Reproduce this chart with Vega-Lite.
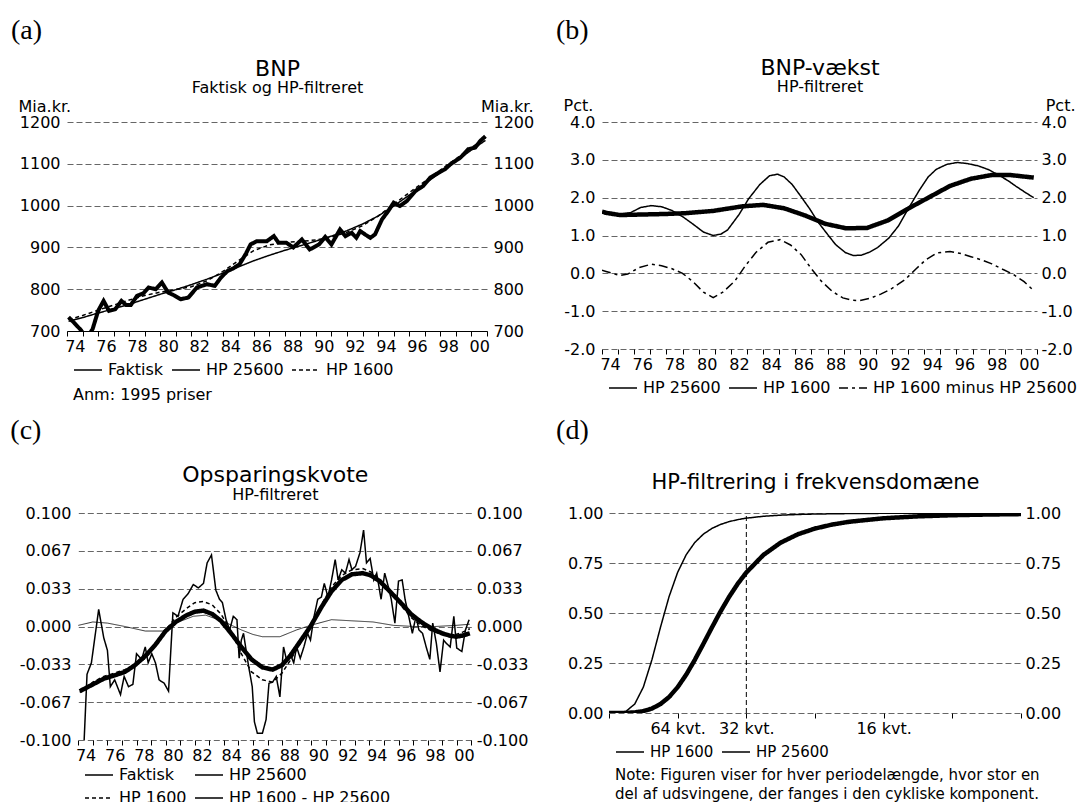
{
  "$schema": "https://vega.github.io/schema/vega-lite/v6.json",
  "padding": {"left": 10, "top": 16, "right": 1, "bottom": 2},
  "background": "white",
  "columns": 2,
  "align": {"row": "each", "column": "none"},
  "spacing": {"row": 7, "column": 22},
  "resolve": {"scale": {"strokeDash": "independent"}, "legend": {"strokeDash": "independent"}},
  "config": {
    "font": "DejaVu Sans",
    "view": {"stroke": null},
    "axis": {"labelFont": "DejaVu Sans", "labelFontSize": 16, "labelColor": "black", "titleFont": "DejaVu Sans", "titleFontSize": 16, "titleFontWeight": "normal", "titleColor": "black", "tickColor": "black", "domainColor": "black", "gridColor": "#666666", "gridDash": [6, 3], "gridWidth": 1, "titleLimit": 1000},
    "title": {"font": "Liberation Serif", "fontSize": 28, "fontWeight": "normal", "color": "black", "anchor": "start", "frame": "bounds"},
    "legend": {"orient": "bottom", "direction": "horizontal", "symbolType": "stroke", "symbolSize": 784, "labelFont": "DejaVu Sans", "labelFontSize": 16, "labelColor": "black", "titleFont": "DejaVu Sans", "titleFontSize": 16, "titleFontWeight": "normal", "titleColor": "black", "labelOffset": 5, "columnPadding": 5, "rowPadding": 2, "offset": -5, "padding": 6, "titleOrient": "bottom", "titleAnchor": "start", "titlePadding": 9, "titleLimit": 1000, "labelLimit": 500}
  },
  "datasets": {
    "a": [
      {"t": 1974.1, "s": "Faktisk", "v": 733}, {"t": 1974.5, "s": "Faktisk", "v": 718}, {"t": 1974.9, "s": "Faktisk", "v": 702}, {"t": 1975.15, "s": "Faktisk", "v": 688}, {"t": 1975.4, "s": "Faktisk", "v": 690}, {"t": 1975.65, "s": "Faktisk", "v": 705}, {"t": 1976.0, "s": "Faktisk", "v": 748}, {"t": 1976.35, "s": "Faktisk", "v": 772}, {"t": 1976.7, "s": "Faktisk", "v": 748}, {"t": 1977.1, "s": "Faktisk", "v": 752}, {"t": 1977.5, "s": "Faktisk", "v": 772}, {"t": 1977.8, "s": "Faktisk", "v": 762}, {"t": 1978.1, "s": "Faktisk", "v": 762}, {"t": 1978.5, "s": "Faktisk", "v": 784}, {"t": 1978.9, "s": "Faktisk", "v": 790}, {"t": 1979.25, "s": "Faktisk", "v": 804}, {"t": 1979.7, "s": "Faktisk", "v": 800}, {"t": 1980.1, "s": "Faktisk", "v": 816}, {"t": 1980.5, "s": "Faktisk", "v": 792}, {"t": 1980.9, "s": "Faktisk", "v": 785}, {"t": 1981.3, "s": "Faktisk", "v": 776}, {"t": 1981.8, "s": "Faktisk", "v": 780}, {"t": 1982.35, "s": "Faktisk", "v": 804}, {"t": 1983.0, "s": "Faktisk", "v": 812}, {"t": 1983.5, "s": "Faktisk", "v": 808}, {"t": 1983.9, "s": "Faktisk", "v": 828}, {"t": 1984.3, "s": "Faktisk", "v": 843}, {"t": 1984.7, "s": "Faktisk", "v": 850}, {"t": 1985.1, "s": "Faktisk", "v": 860}, {"t": 1985.5, "s": "Faktisk", "v": 885}, {"t": 1985.8, "s": "Faktisk", "v": 907}, {"t": 1986.2, "s": "Faktisk", "v": 915}, {"t": 1986.5, "s": "Faktisk", "v": 915}, {"t": 1986.85, "s": "Faktisk", "v": 915}, {"t": 1987.3, "s": "Faktisk", "v": 927}, {"t": 1987.6, "s": "Faktisk", "v": 911}, {"t": 1988.1, "s": "Faktisk", "v": 911}, {"t": 1988.55, "s": "Faktisk", "v": 900}, {"t": 1989.1, "s": "Faktisk", "v": 919}, {"t": 1989.6, "s": "Faktisk", "v": 895}, {"t": 1990.2, "s": "Faktisk", "v": 907}, {"t": 1990.6, "s": "Faktisk", "v": 925}, {"t": 1991.0, "s": "Faktisk", "v": 907}, {"t": 1991.55, "s": "Faktisk", "v": 943}, {"t": 1991.9, "s": "Faktisk", "v": 927}, {"t": 1992.3, "s": "Faktisk", "v": 935}, {"t": 1992.6, "s": "Faktisk", "v": 923}, {"t": 1992.85, "s": "Faktisk", "v": 939}, {"t": 1993.2, "s": "Faktisk", "v": 930}, {"t": 1993.5, "s": "Faktisk", "v": 923}, {"t": 1993.8, "s": "Faktisk", "v": 931}, {"t": 1994.25, "s": "Faktisk", "v": 967}, {"t": 1994.65, "s": "Faktisk", "v": 987}, {"t": 1995.0, "s": "Faktisk", "v": 1007}, {"t": 1995.4, "s": "Faktisk", "v": 999}, {"t": 1995.85, "s": "Faktisk", "v": 1011}, {"t": 1996.4, "s": "Faktisk", "v": 1035}, {"t": 1996.9, "s": "Faktisk", "v": 1047}, {"t": 1997.35, "s": "Faktisk", "v": 1067}, {"t": 1997.9, "s": "Faktisk", "v": 1079}, {"t": 1998.3, "s": "Faktisk", "v": 1087}, {"t": 1998.65, "s": "Faktisk", "v": 1099}, {"t": 1999.3, "s": "Faktisk", "v": 1115}, {"t": 1999.8, "s": "Faktisk", "v": 1135}, {"t": 2000.25, "s": "Faktisk", "v": 1139}, {"t": 2000.55, "s": "Faktisk", "v": 1154}, {"t": 2000.9, "s": "Faktisk", "v": 1166},
      {"t": 1974.1, "s": "HP 25600", "v": 723}, {"t": 1975, "s": "HP 25600", "v": 732}, {"t": 1976, "s": "HP 25600", "v": 743}, {"t": 1977, "s": "HP 25600", "v": 753}, {"t": 1978, "s": "HP 25600", "v": 764}, {"t": 1979, "s": "HP 25600", "v": 776}, {"t": 1980, "s": "HP 25600", "v": 788}, {"t": 1981, "s": "HP 25600", "v": 799}, {"t": 1982, "s": "HP 25600", "v": 811}, {"t": 1983, "s": "HP 25600", "v": 824}, {"t": 1984, "s": "HP 25600", "v": 838}, {"t": 1985, "s": "HP 25600", "v": 853}, {"t": 1986, "s": "HP 25600", "v": 868}, {"t": 1987, "s": "HP 25600", "v": 881}, {"t": 1988, "s": "HP 25600", "v": 893}, {"t": 1989, "s": "HP 25600", "v": 904}, {"t": 1990, "s": "HP 25600", "v": 915}, {"t": 1991, "s": "HP 25600", "v": 927}, {"t": 1992, "s": "HP 25600", "v": 940}, {"t": 1993, "s": "HP 25600", "v": 956}, {"t": 1994, "s": "HP 25600", "v": 975}, {"t": 1995, "s": "HP 25600", "v": 999}, {"t": 1996, "s": "HP 25600", "v": 1025}, {"t": 1997, "s": "HP 25600", "v": 1052}, {"t": 1998, "s": "HP 25600", "v": 1079}, {"t": 1999, "s": "HP 25600", "v": 1106}, {"t": 2000, "s": "HP 25600", "v": 1133}, {"t": 2000.9, "s": "HP 25600", "v": 1156},
      {"t": 1974.1, "s": "HP 1600", "v": 727}, {"t": 1975, "s": "HP 1600", "v": 737}, {"t": 1976, "s": "HP 1600", "v": 750}, {"t": 1977, "s": "HP 1600", "v": 762}, {"t": 1978, "s": "HP 1600", "v": 774}, {"t": 1979, "s": "HP 1600", "v": 785}, {"t": 1980, "s": "HP 1600", "v": 793}, {"t": 1981, "s": "HP 1600", "v": 799}, {"t": 1982, "s": "HP 1600", "v": 806}, {"t": 1983, "s": "HP 1600", "v": 820}, {"t": 1984, "s": "HP 1600", "v": 842}, {"t": 1985, "s": "HP 1600", "v": 868}, {"t": 1986, "s": "HP 1600", "v": 892}, {"t": 1987, "s": "HP 1600", "v": 906}, {"t": 1988, "s": "HP 1600", "v": 912}, {"t": 1989, "s": "HP 1600", "v": 914}, {"t": 1990, "s": "HP 1600", "v": 918}, {"t": 1991, "s": "HP 1600", "v": 925}, {"t": 1992, "s": "HP 1600", "v": 936}, {"t": 1993, "s": "HP 1600", "v": 952}, {"t": 1994, "s": "HP 1600", "v": 975}, {"t": 1995, "s": "HP 1600", "v": 1003}, {"t": 1996, "s": "HP 1600", "v": 1031}, {"t": 1997, "s": "HP 1600", "v": 1058}, {"t": 1998, "s": "HP 1600", "v": 1085}, {"t": 1999, "s": "HP 1600", "v": 1112}, {"t": 2000, "s": "HP 1600", "v": 1139}, {"t": 2000.9, "s": "HP 1600", "v": 1162}
    ],
    "b": [
      {"t": 1974.0, "s": "HP 25600", "v": 1.63}, {"t": 1974.25, "s": "HP 25600", "v": 1.6}, {"t": 1975.1, "s": "HP 25600", "v": 1.54}, {"t": 1976.0, "s": "HP 25600", "v": 1.55}, {"t": 1977.05, "s": "HP 25600", "v": 1.56}, {"t": 1978.0, "s": "HP 25600", "v": 1.57}, {"t": 1979.2, "s": "HP 25600", "v": 1.59}, {"t": 1980.9, "s": "HP 25600", "v": 1.65}, {"t": 1982.7, "s": "HP 25600", "v": 1.77}, {"t": 1984.0, "s": "HP 25600", "v": 1.81}, {"t": 1985.3, "s": "HP 25600", "v": 1.72}, {"t": 1986.6, "s": "HP 25600", "v": 1.53}, {"t": 1987.85, "s": "HP 25600", "v": 1.31}, {"t": 1989.15, "s": "HP 25600", "v": 1.19}, {"t": 1990.45, "s": "HP 25600", "v": 1.2}, {"t": 1991.75, "s": "HP 25600", "v": 1.4}, {"t": 1993.0, "s": "HP 25600", "v": 1.71}, {"t": 1994.3, "s": "HP 25600", "v": 2.01}, {"t": 1995.6, "s": "HP 25600", "v": 2.31}, {"t": 1996.9, "s": "HP 25600", "v": 2.5}, {"t": 1998.2, "s": "HP 25600", "v": 2.6}, {"t": 1999.3, "s": "HP 25600", "v": 2.6}, {"t": 2000.8, "s": "HP 25600", "v": 2.53},
      {"t": 1974.0, "s": "HP 1600", "v": 1.6}, {"t": 1974.25, "s": "HP 1600", "v": 1.57}, {"t": 1975.0, "s": "HP 1600", "v": 1.56}, {"t": 1975.75, "s": "HP 1600", "v": 1.6}, {"t": 1976.4, "s": "HP 1600", "v": 1.74}, {"t": 1977.05, "s": "HP 1600", "v": 1.79}, {"t": 1977.7, "s": "HP 1600", "v": 1.76}, {"t": 1978.35, "s": "HP 1600", "v": 1.66}, {"t": 1979.0, "s": "HP 1600", "v": 1.5}, {"t": 1979.65, "s": "HP 1600", "v": 1.3}, {"t": 1980.3, "s": "HP 1600", "v": 1.09}, {"t": 1980.9, "s": "HP 1600", "v": 1.0}, {"t": 1981.4, "s": "HP 1600", "v": 1.04}, {"t": 1981.8, "s": "HP 1600", "v": 1.15}, {"t": 1982.5, "s": "HP 1600", "v": 1.55}, {"t": 1983.1, "s": "HP 1600", "v": 1.97}, {"t": 1983.8, "s": "HP 1600", "v": 2.35}, {"t": 1984.4, "s": "HP 1600", "v": 2.58}, {"t": 1984.9, "s": "HP 1600", "v": 2.62}, {"t": 1985.3, "s": "HP 1600", "v": 2.55}, {"t": 1985.8, "s": "HP 1600", "v": 2.35}, {"t": 1986.35, "s": "HP 1600", "v": 2.03}, {"t": 1986.9, "s": "HP 1600", "v": 1.7}, {"t": 1987.4, "s": "HP 1600", "v": 1.36}, {"t": 1988.0, "s": "HP 1600", "v": 1.03}, {"t": 1988.5, "s": "HP 1600", "v": 0.76}, {"t": 1989.1, "s": "HP 1600", "v": 0.55}, {"t": 1989.6, "s": "HP 1600", "v": 0.47}, {"t": 1990.1, "s": "HP 1600", "v": 0.48}, {"t": 1990.6, "s": "HP 1600", "v": 0.56}, {"t": 1991.1, "s": "HP 1600", "v": 0.68}, {"t": 1991.8, "s": "HP 1600", "v": 0.93}, {"t": 1992.4, "s": "HP 1600", "v": 1.25}, {"t": 1993.0, "s": "HP 1600", "v": 1.7}, {"t": 1993.7, "s": "HP 1600", "v": 2.2}, {"t": 1994.25, "s": "HP 1600", "v": 2.55}, {"t": 1994.75, "s": "HP 1600", "v": 2.75}, {"t": 1995.4, "s": "HP 1600", "v": 2.88}, {"t": 1996.05, "s": "HP 1600", "v": 2.93}, {"t": 1996.7, "s": "HP 1600", "v": 2.9}, {"t": 1997.35, "s": "HP 1600", "v": 2.84}, {"t": 1998.0, "s": "HP 1600", "v": 2.74}, {"t": 1998.65, "s": "HP 1600", "v": 2.59}, {"t": 1999.2, "s": "HP 1600", "v": 2.45}, {"t": 1999.7, "s": "HP 1600", "v": 2.3}, {"t": 2000.3, "s": "HP 1600", "v": 2.13}, {"t": 2000.8, "s": "HP 1600", "v": 2.0},
      {"t": 1974.0, "s": "HP 1600 minus HP 25600", "v": 0.08}, {"t": 1974.25, "s": "HP 1600 minus HP 25600", "v": 0.05}, {"t": 1975.1, "s": "HP 1600 minus HP 25600", "v": -0.06}, {"t": 1975.6, "s": "HP 1600 minus HP 25600", "v": -0.02}, {"t": 1976.3, "s": "HP 1600 minus HP 25600", "v": 0.15}, {"t": 1977.05, "s": "HP 1600 minus HP 25600", "v": 0.24}, {"t": 1977.7, "s": "HP 1600 minus HP 25600", "v": 0.2}, {"t": 1978.35, "s": "HP 1600 minus HP 25600", "v": 0.12}, {"t": 1979.0, "s": "HP 1600 minus HP 25600", "v": 0.0}, {"t": 1979.65, "s": "HP 1600 minus HP 25600", "v": -0.22}, {"t": 1980.3, "s": "HP 1600 minus HP 25600", "v": -0.5}, {"t": 1980.9, "s": "HP 1600 minus HP 25600", "v": -0.64}, {"t": 1981.5, "s": "HP 1600 minus HP 25600", "v": -0.5}, {"t": 1982.25, "s": "HP 1600 minus HP 25600", "v": -0.2}, {"t": 1982.9, "s": "HP 1600 minus HP 25600", "v": 0.2}, {"t": 1983.55, "s": "HP 1600 minus HP 25600", "v": 0.55}, {"t": 1984.3, "s": "HP 1600 minus HP 25600", "v": 0.82}, {"t": 1985.05, "s": "HP 1600 minus HP 25600", "v": 0.89}, {"t": 1985.7, "s": "HP 1600 minus HP 25600", "v": 0.75}, {"t": 1986.35, "s": "HP 1600 minus HP 25600", "v": 0.5}, {"t": 1987.0, "s": "HP 1600 minus HP 25600", "v": 0.12}, {"t": 1987.6, "s": "HP 1600 minus HP 25600", "v": -0.2}, {"t": 1988.3, "s": "HP 1600 minus HP 25600", "v": -0.48}, {"t": 1988.95, "s": "HP 1600 minus HP 25600", "v": -0.65}, {"t": 1989.5, "s": "HP 1600 minus HP 25600", "v": -0.71}, {"t": 1990.0, "s": "HP 1600 minus HP 25600", "v": -0.72}, {"t": 1990.7, "s": "HP 1600 minus HP 25600", "v": -0.65}, {"t": 1991.3, "s": "HP 1600 minus HP 25600", "v": -0.55}, {"t": 1992.0, "s": "HP 1600 minus HP 25600", "v": -0.4}, {"t": 1992.8, "s": "HP 1600 minus HP 25600", "v": -0.17}, {"t": 1993.5, "s": "HP 1600 minus HP 25600", "v": 0.12}, {"t": 1994.1, "s": "HP 1600 minus HP 25600", "v": 0.36}, {"t": 1994.8, "s": "HP 1600 minus HP 25600", "v": 0.54}, {"t": 1995.6, "s": "HP 1600 minus HP 25600", "v": 0.58}, {"t": 1996.3, "s": "HP 1600 minus HP 25600", "v": 0.52}, {"t": 1996.9, "s": "HP 1600 minus HP 25600", "v": 0.44}, {"t": 1997.6, "s": "HP 1600 minus HP 25600", "v": 0.35}, {"t": 1998.2, "s": "HP 1600 minus HP 25600", "v": 0.25}, {"t": 1998.9, "s": "HP 1600 minus HP 25600", "v": 0.1}, {"t": 1999.5, "s": "HP 1600 minus HP 25600", "v": -0.02}, {"t": 2000.2, "s": "HP 1600 minus HP 25600", "v": -0.22}, {"t": 2000.8, "s": "HP 1600 minus HP 25600", "v": -0.46}
    ],
    "c": [
      {"t": 1974.3, "s": "Faktisk", "v": -0.13}, {"t": 1974.6, "s": "Faktisk", "v": -0.042}, {"t": 1974.9, "s": "Faktisk", "v": -0.032}, {"t": 1975.4, "s": "Faktisk", "v": 0.015}, {"t": 1975.75, "s": "Faktisk", "v": -0.01}, {"t": 1976.0, "s": "Faktisk", "v": -0.021}, {"t": 1976.2, "s": "Faktisk", "v": -0.053}, {"t": 1976.5, "s": "Faktisk", "v": -0.047}, {"t": 1976.9, "s": "Faktisk", "v": -0.06}, {"t": 1977.15, "s": "Faktisk", "v": -0.044}, {"t": 1977.45, "s": "Faktisk", "v": -0.053}, {"t": 1977.75, "s": "Faktisk", "v": -0.051}, {"t": 1978.0, "s": "Faktisk", "v": -0.024}, {"t": 1978.35, "s": "Faktisk", "v": -0.029}, {"t": 1978.6, "s": "Faktisk", "v": -0.018}, {"t": 1978.8, "s": "Faktisk", "v": -0.032}, {"t": 1979.05, "s": "Faktisk", "v": -0.024}, {"t": 1979.3, "s": "Faktisk", "v": -0.032}, {"t": 1979.55, "s": "Faktisk", "v": -0.047}, {"t": 1979.9, "s": "Faktisk", "v": -0.05}, {"t": 1980.2, "s": "Faktisk", "v": -0.057}, {"t": 1980.5, "s": "Faktisk", "v": 0.012}, {"t": 1980.85, "s": "Faktisk", "v": 0.009}, {"t": 1981.2, "s": "Faktisk", "v": 0.024}, {"t": 1981.55, "s": "Faktisk", "v": 0.029}, {"t": 1981.9, "s": "Faktisk", "v": 0.037}, {"t": 1982.25, "s": "Faktisk", "v": 0.034}, {"t": 1982.6, "s": "Faktisk", "v": 0.038}, {"t": 1982.85, "s": "Faktisk", "v": 0.056}, {"t": 1983.15, "s": "Faktisk", "v": 0.063}, {"t": 1983.45, "s": "Faktisk", "v": 0.032}, {"t": 1983.7, "s": "Faktisk", "v": 0.024}, {"t": 1983.9, "s": "Faktisk", "v": 0.021}, {"t": 1984.15, "s": "Faktisk", "v": 0.006}, {"t": 1984.4, "s": "Faktisk", "v": -0.003}, {"t": 1984.65, "s": "Faktisk", "v": 0.009}, {"t": 1984.9, "s": "Faktisk", "v": 0.006}, {"t": 1985.05, "s": "Faktisk", "v": -0.028}, {"t": 1985.2, "s": "Faktisk", "v": -0.012}, {"t": 1985.35, "s": "Faktisk", "v": -0.006}, {"t": 1985.7, "s": "Faktisk", "v": -0.035}, {"t": 1985.95, "s": "Faktisk", "v": -0.053}, {"t": 1986.1, "s": "Faktisk", "v": -0.084}, {"t": 1986.3, "s": "Faktisk", "v": -0.094}, {"t": 1986.65, "s": "Faktisk", "v": -0.094}, {"t": 1986.9, "s": "Faktisk", "v": -0.082}, {"t": 1987.1, "s": "Faktisk", "v": -0.05}, {"t": 1987.35, "s": "Faktisk", "v": -0.049}, {"t": 1987.6, "s": "Faktisk", "v": -0.044}, {"t": 1987.85, "s": "Faktisk", "v": -0.062}, {"t": 1988.1, "s": "Faktisk", "v": -0.018}, {"t": 1988.3, "s": "Faktisk", "v": -0.029}, {"t": 1988.55, "s": "Faktisk", "v": -0.024}, {"t": 1988.8, "s": "Faktisk", "v": -0.032}, {"t": 1989.0, "s": "Faktisk", "v": -0.018}, {"t": 1989.25, "s": "Faktisk", "v": -0.028}, {"t": 1989.5, "s": "Faktisk", "v": -0.018}, {"t": 1989.75, "s": "Faktisk", "v": -0.006}, {"t": 1989.95, "s": "Faktisk", "v": -0.012}, {"t": 1990.2, "s": "Faktisk", "v": 0.009}, {"t": 1990.45, "s": "Faktisk", "v": 0.024}, {"t": 1990.7, "s": "Faktisk", "v": 0.026}, {"t": 1990.9, "s": "Faktisk", "v": 0.038}, {"t": 1991.15, "s": "Faktisk", "v": 0.026}, {"t": 1991.4, "s": "Faktisk", "v": 0.041}, {"t": 1991.65, "s": "Faktisk", "v": 0.059}, {"t": 1991.85, "s": "Faktisk", "v": 0.041}, {"t": 1992.1, "s": "Faktisk", "v": 0.05}, {"t": 1992.35, "s": "Faktisk", "v": 0.047}, {"t": 1992.6, "s": "Faktisk", "v": 0.059}, {"t": 1992.8, "s": "Faktisk", "v": 0.05}, {"t": 1993.05, "s": "Faktisk", "v": 0.053}, {"t": 1993.35, "s": "Faktisk", "v": 0.065}, {"t": 1993.6, "s": "Faktisk", "v": 0.085}, {"t": 1993.8, "s": "Faktisk", "v": 0.056}, {"t": 1994.05, "s": "Faktisk", "v": 0.06}, {"t": 1994.3, "s": "Faktisk", "v": 0.041}, {"t": 1994.5, "s": "Faktisk", "v": 0.047}, {"t": 1994.8, "s": "Faktisk", "v": 0.024}, {"t": 1995.05, "s": "Faktisk", "v": 0.047}, {"t": 1995.3, "s": "Faktisk", "v": 0.035}, {"t": 1995.5, "s": "Faktisk", "v": 0.024}, {"t": 1995.75, "s": "Faktisk", "v": 0.003}, {"t": 1996.0, "s": "Faktisk", "v": 0.04}, {"t": 1996.25, "s": "Faktisk", "v": 0.041}, {"t": 1996.45, "s": "Faktisk", "v": 0.024}, {"t": 1996.7, "s": "Faktisk", "v": 0.009}, {"t": 1996.95, "s": "Faktisk", "v": -0.006}, {"t": 1997.2, "s": "Faktisk", "v": 0.009}, {"t": 1997.4, "s": "Faktisk", "v": -0.003}, {"t": 1997.65, "s": "Faktisk", "v": -0.006}, {"t": 1997.9, "s": "Faktisk", "v": -0.018}, {"t": 1998.15, "s": "Faktisk", "v": -0.029}, {"t": 1998.35, "s": "Faktisk", "v": 0.003}, {"t": 1998.6, "s": "Faktisk", "v": -0.015}, {"t": 1998.85, "s": "Faktisk", "v": -0.04}, {"t": 1999.1, "s": "Faktisk", "v": -0.012}, {"t": 1999.3, "s": "Faktisk", "v": -0.015}, {"t": 1999.55, "s": "Faktisk", "v": -0.018}, {"t": 1999.8, "s": "Faktisk", "v": 0.009}, {"t": 2000.0, "s": "Faktisk", "v": -0.019}, {"t": 2000.35, "s": "Faktisk", "v": -0.022}, {"t": 2000.6, "s": "Faktisk", "v": -0.003}, {"t": 2000.85, "s": "Faktisk", "v": 0.006},
      {"t": 1974.1, "s": "HP 25600", "v": -0.057}, {"t": 1975.0, "s": "HP 25600", "v": -0.051}, {"t": 1975.75, "s": "HP 25600", "v": -0.046}, {"t": 1976.5, "s": "HP 25600", "v": -0.043}, {"t": 1977.2, "s": "HP 25600", "v": -0.04}, {"t": 1977.9, "s": "HP 25600", "v": -0.034}, {"t": 1978.6, "s": "HP 25600", "v": -0.026}, {"t": 1979.3, "s": "HP 25600", "v": -0.016}, {"t": 1980.0, "s": "HP 25600", "v": -0.004}, {"t": 1980.7, "s": "HP 25600", "v": 0.004}, {"t": 1981.45, "s": "HP 25600", "v": 0.01}, {"t": 1982.0, "s": "HP 25600", "v": 0.013}, {"t": 1982.6, "s": "HP 25600", "v": 0.014}, {"t": 1983.2, "s": "HP 25600", "v": 0.011}, {"t": 1983.8, "s": "HP 25600", "v": 0.005}, {"t": 1984.5, "s": "HP 25600", "v": -0.006}, {"t": 1985.2, "s": "HP 25600", "v": -0.018}, {"t": 1985.9, "s": "HP 25600", "v": -0.029}, {"t": 1986.65, "s": "HP 25600", "v": -0.036}, {"t": 1987.35, "s": "HP 25600", "v": -0.038}, {"t": 1988.0, "s": "HP 25600", "v": -0.034}, {"t": 1988.55, "s": "HP 25600", "v": -0.026}, {"t": 1989.25, "s": "HP 25600", "v": -0.013}, {"t": 1989.95, "s": "HP 25600", "v": 0.0}, {"t": 1990.7, "s": "HP 25600", "v": 0.017}, {"t": 1991.4, "s": "HP 25600", "v": 0.031}, {"t": 1992.1, "s": "HP 25600", "v": 0.041}, {"t": 1992.8, "s": "HP 25600", "v": 0.046}, {"t": 1993.55, "s": "HP 25600", "v": 0.047}, {"t": 1994.1, "s": "HP 25600", "v": 0.045}, {"t": 1994.7, "s": "HP 25600", "v": 0.04}, {"t": 1995.4, "s": "HP 25600", "v": 0.031}, {"t": 1996.15, "s": "HP 25600", "v": 0.021}, {"t": 1996.85, "s": "HP 25600", "v": 0.011}, {"t": 1997.55, "s": "HP 25600", "v": 0.004}, {"t": 1998.3, "s": "HP 25600", "v": -0.002}, {"t": 1999.0, "s": "HP 25600", "v": -0.006}, {"t": 1999.5, "s": "HP 25600", "v": -0.008}, {"t": 1999.95, "s": "HP 25600", "v": -0.009}, {"t": 2000.4, "s": "HP 25600", "v": -0.008}, {"t": 2000.9, "s": "HP 25600", "v": -0.006},
      {"t": 1974.1, "s": "HP 1600", "v": -0.058}, {"t": 1975.0, "s": "HP 1600", "v": -0.049}, {"t": 1975.75, "s": "HP 1600", "v": -0.044}, {"t": 1976.5, "s": "HP 1600", "v": -0.041}, {"t": 1977.2, "s": "HP 1600", "v": -0.038}, {"t": 1977.9, "s": "HP 1600", "v": -0.034}, {"t": 1978.6, "s": "HP 1600", "v": -0.028}, {"t": 1979.3, "s": "HP 1600", "v": -0.017}, {"t": 1980.0, "s": "HP 1600", "v": -0.003}, {"t": 1980.7, "s": "HP 1600", "v": 0.008}, {"t": 1981.45, "s": "HP 1600", "v": 0.016}, {"t": 1982.0, "s": "HP 1600", "v": 0.021}, {"t": 1982.6, "s": "HP 1600", "v": 0.022}, {"t": 1983.2, "s": "HP 1600", "v": 0.019}, {"t": 1983.8, "s": "HP 1600", "v": 0.011}, {"t": 1984.5, "s": "HP 1600", "v": -0.004}, {"t": 1985.2, "s": "HP 1600", "v": -0.024}, {"t": 1985.9, "s": "HP 1600", "v": -0.04}, {"t": 1986.65, "s": "HP 1600", "v": -0.047}, {"t": 1987.35, "s": "HP 1600", "v": -0.049}, {"t": 1988.0, "s": "HP 1600", "v": -0.041}, {"t": 1988.55, "s": "HP 1600", "v": -0.03}, {"t": 1989.25, "s": "HP 1600", "v": -0.015}, {"t": 1989.95, "s": "HP 1600", "v": 0.0}, {"t": 1990.7, "s": "HP 1600", "v": 0.019}, {"t": 1991.4, "s": "HP 1600", "v": 0.035}, {"t": 1992.1, "s": "HP 1600", "v": 0.045}, {"t": 1992.8, "s": "HP 1600", "v": 0.05}, {"t": 1993.55, "s": "HP 1600", "v": 0.051}, {"t": 1994.1, "s": "HP 1600", "v": 0.048}, {"t": 1994.7, "s": "HP 1600", "v": 0.042}, {"t": 1995.4, "s": "HP 1600", "v": 0.031}, {"t": 1996.15, "s": "HP 1600", "v": 0.019}, {"t": 1996.85, "s": "HP 1600", "v": 0.008}, {"t": 1997.55, "s": "HP 1600", "v": 0.001}, {"t": 1998.3, "s": "HP 1600", "v": -0.004}, {"t": 1999.0, "s": "HP 1600", "v": -0.007}, {"t": 1999.5, "s": "HP 1600", "v": -0.008}, {"t": 1999.95, "s": "HP 1600", "v": -0.007}, {"t": 2000.4, "s": "HP 1600", "v": -0.005}, {"t": 2000.9, "s": "HP 1600", "v": -0.002},
      {"t": 1974.0, "s": "HP 1600 - HP 25600", "v": 0.001}, {"t": 1975.0, "s": "HP 1600 - HP 25600", "v": 0.004}, {"t": 1976.0, "s": "HP 1600 - HP 25600", "v": 0.003}, {"t": 1977.2, "s": "HP 1600 - HP 25600", "v": 0.0}, {"t": 1978.6, "s": "HP 1600 - HP 25600", "v": -0.004}, {"t": 1979.8, "s": "HP 1600 - HP 25600", "v": -0.004}, {"t": 1980.7, "s": "HP 1600 - HP 25600", "v": 0.003}, {"t": 1981.9, "s": "HP 1600 - HP 25600", "v": 0.009}, {"t": 1982.75, "s": "HP 1600 - HP 25600", "v": 0.01}, {"t": 1984.05, "s": "HP 1600 - HP 25600", "v": 0.004}, {"t": 1985.2, "s": "HP 1600 - HP 25600", "v": -0.003}, {"t": 1986.0, "s": "HP 1600 - HP 25600", "v": -0.007}, {"t": 1986.65, "s": "HP 1600 - HP 25600", "v": -0.009}, {"t": 1987.85, "s": "HP 1600 - HP 25600", "v": -0.009}, {"t": 1989.0, "s": "HP 1600 - HP 25600", "v": -0.003}, {"t": 1989.95, "s": "HP 1600 - HP 25600", "v": 0.001}, {"t": 1991.4, "s": "HP 1600 - HP 25600", "v": 0.006}, {"t": 1992.8, "s": "HP 1600 - HP 25600", "v": 0.005}, {"t": 1994.25, "s": "HP 1600 - HP 25600", "v": 0.004}, {"t": 1995.65, "s": "HP 1600 - HP 25600", "v": 0.001}, {"t": 1997.1, "s": "HP 1600 - HP 25600", "v": 0.0}, {"t": 1998.5, "s": "HP 1600 - HP 25600", "v": 0.0}, {"t": 1999.95, "s": "HP 1600 - HP 25600", "v": 0.001}, {"t": 2000.9, "s": "HP 1600 - HP 25600", "v": 0.002}
    ],
    "d": [
      {"f": 0, "s": "HP 1600", "v": 0}, {"f": 0.001953, "s": "HP 1600", "v": 0.0}, {"f": 0.003906, "s": "HP 1600", "v": 0.0006}, {"f": 0.005859, "s": "HP 1600", "v": 0.0029}, {"f": 0.0078125, "s": "HP 1600", "v": 0.0092}, {"f": 0.009766, "s": "HP 1600", "v": 0.0222}, {"f": 0.011719, "s": "HP 1600", "v": 0.0449}, {"f": 0.013672, "s": "HP 1600", "v": 0.08}, {"f": 0.015625, "s": "HP 1600", "v": 0.1292}, {"f": 0.017578, "s": "HP 1600", "v": 0.192}, {"f": 0.019531, "s": "HP 1600", "v": 0.2658}, {"f": 0.021484, "s": "HP 1600", "v": 0.3463}, {"f": 0.023438, "s": "HP 1600", "v": 0.4285}, {"f": 0.025391, "s": "HP 1600", "v": 0.5079}, {"f": 0.027344, "s": "HP 1600", "v": 0.5811}, {"f": 0.029297, "s": "HP 1600", "v": 0.6462}, {"f": 0.03125, "s": "HP 1600", "v": 0.7026}, {"f": 0.035156, "s": "HP 1600", "v": 0.7907}, {"f": 0.039063, "s": "HP 1600", "v": 0.8518}, {"f": 0.042969, "s": "HP 1600", "v": 0.8936}, {"f": 0.046875, "s": "HP 1600", "v": 0.9223}, {"f": 0.050781, "s": "HP 1600", "v": 0.9422}, {"f": 0.054688, "s": "HP 1600", "v": 0.9563}, {"f": 0.0625, "s": "HP 1600", "v": 0.9737}, {"f": 0.070313, "s": "HP 1600", "v": 0.9833}, {"f": 0.078125, "s": "HP 1600", "v": 0.9889}, {"f": 0.085938, "s": "HP 1600", "v": 0.9923}, {"f": 0.09375, "s": "HP 1600", "v": 0.9945},
      {"f": 0, "s": "HP 25600", "v": 0}, {"f": 0.001953, "s": "HP 25600", "v": 0.0006}, {"f": 0.003906, "s": "HP 25600", "v": 0.0092}, {"f": 0.005859, "s": "HP 25600", "v": 0.0449}, {"f": 0.0078125, "s": "HP 25600", "v": 0.1293}, {"f": 0.009766, "s": "HP 25600", "v": 0.2661}, {"f": 0.011719, "s": "HP 25600", "v": 0.4291}, {"f": 0.013672, "s": "HP 25600", "v": 0.582}, {"f": 0.015625, "s": "HP 25600", "v": 0.7036}, {"f": 0.017578, "s": "HP 25600", "v": 0.7917}, {"f": 0.019531, "s": "HP 25600", "v": 0.8528}, {"f": 0.021484, "s": "HP 25600", "v": 0.8945}, {"f": 0.023438, "s": "HP 25600", "v": 0.9231}, {"f": 0.025391, "s": "HP 25600", "v": 0.9429}, {"f": 0.027344, "s": "HP 25600", "v": 0.9569}, {"f": 0.029297, "s": "HP 25600", "v": 0.9669}, {"f": 0.03125, "s": "HP 25600", "v": 0.9742}, {"f": 0.035156, "s": "HP 25600", "v": 0.9837}, {"f": 0.039063, "s": "HP 25600", "v": 0.9892}, {"f": 0.042969, "s": "HP 25600", "v": 0.9926}, {"f": 0.046875, "s": "HP 25600", "v": 0.9948}, {"f": 0.054688, "s": "HP 25600", "v": 0.9972}, {"f": 0.0625, "s": "HP 25600", "v": 0.9983}, {"f": 0.078125, "s": "HP 25600", "v": 0.9993}, {"f": 0.09375, "s": "HP 25600", "v": 0.9997}
    ]
  },
  "concat": [
    {
      "width": 420, "height": 209,
      "title": {"text": "(a)", "dx": -7, "offset": 12},
      "layer": [
        {
          "data": {"name": "a"},
          "mark": {"type": "line", "color": "black", "clip": true},
          "encoding": {
            "x": {"field": "t", "type": "quantitative", "scale": {"domain": [1974, 2001], "nice": false, "zero": false},
              "axis": {"orient": "bottom", "values": [1974,1975,1976,1977,1978,1979,1980,1981,1982,1983,1984,1985,1986,1987,1988,1989,1990,1991,1992,1993,1994,1995,1996,1997,1998,1999,2000,2001], "labelExpr": "datum.value % 2 == 0 && datum.value < 2001 ? substring(toString(datum.value), 2, 4) : ''", "labelOffset": 7.8, "grid": false, "domain": true, "tickSize": 5, "labelPadding": 2, "labelOverlap": false, "labelFlush": false, "labelBound": false,
                "title": "BNP", "titleFontSize": 22, "titleAngle": 0, "titleAlign": "center", "titleBaseline": "alphabetic", "titleX": 210, "titleY": -256}},
            "y": {"field": "v", "type": "quantitative", "scale": {"domain": [700, 1200], "nice": false, "zero": false},
              "axis": {"orient": "left", "values": [700, 800, 900, 1000, 1100, 1200], "format": "d", "grid": true, "domain": false, "ticks": false, "labelPadding": 7, "title": "Mia.kr.", "titleAngle": 0, "titleAlign": "left", "titleBaseline": "alphabetic", "titleX": -49, "titleY": -11}},
            "strokeDash": {"field": "s", "type": "nominal", "scale": {"domain": ["Faktisk", "HP 25600", "HP 1600"], "range": [[1, 0], [1, 0], [4, 3]]},
              "legend": {"title": "Anm: 1995 priser", "encode": {"symbols": {"stroke": {"value": "black"}, "strokeWidth": {"condition": {"test": "datum.value == 'Faktisk'", "value": 4}, "value": 1.5}}}}},
            "strokeWidth": {"condition": {"test": "datum.s == 'Faktisk'", "value": 4}, "value": 1.5}
          }
        },
        {
          "data": {"values": [{"v": 700}]},
          "mark": {"type": "rule", "strokeOpacity": 0},
          "encoding": {
            "y": {"field": "v", "type": "quantitative",
              "axis": {"orient": "right", "values": [700, 800, 900, 1000, 1100, 1200], "format": "d", "grid": false, "domain": false, "ticks": false, "labelPadding": 6, "title": "Mia.kr.", "titleAngle": 0, "titleAlign": "right", "titleBaseline": "alphabetic", "titleX": 46, "titleY": -11}}
          }
        },
        {
          "data": {"values": [{"t": 1974}]},
          "mark": {"type": "rule", "strokeOpacity": 0},
          "encoding": {
            "x": {"field": "t", "type": "quantitative",
              "axis": {"orient": "top", "labels": false, "ticks": false, "domain": false, "grid": false, "title": "Faktisk og HP-filtreret", "titleFontSize": 16, "titleAngle": 0, "titleAlign": "center", "titleBaseline": "alphabetic", "titleX": 210, "titleY": -30}}
          }
        }
      ],
      "resolve": {"axis": {"x": "independent", "y": "independent"}}
    },
    {
      "width": 435, "height": 227,
      "title": {"text": "(b)", "dx": -7, "offset": 12},
      "layer": [
        {
          "data": {"name": "b"},
          "mark": {"type": "line", "color": "black", "clip": true},
          "encoding": {
            "x": {"field": "t", "type": "quantitative", "scale": {"domain": [1974, 2001], "nice": false, "zero": false},
              "axis": {"orient": "bottom", "values": [1974,1975,1976,1977,1978,1979,1980,1981,1982,1983,1984,1985,1986,1987,1988,1989,1990,1991,1992,1993,1994,1995,1996,1997,1998,1999,2000,2001], "labelExpr": "datum.value % 2 == 0 && datum.value < 2001 ? substring(toString(datum.value), 2, 4) : ''", "labelOffset": 8.05, "grid": false, "domain": false, "tickSize": 5, "labelPadding": 2, "labelOverlap": false, "labelFlush": false, "labelBound": false,
                "title": "BNP-vækst", "titleFontSize": 22, "titleAngle": 0, "titleAlign": "center", "titleBaseline": "alphabetic", "titleX": 217.5, "titleY": -274.3}},
            "y": {"field": "v", "type": "quantitative", "scale": {"domain": [-2, 4], "nice": false, "zero": false},
              "axis": {"orient": "left", "values": [-2, -1, 0, 1, 2, 3, 4], "format": ".1f", "labelExpr": "replace(datum.label, '\u2212', '-')", "grid": true, "domain": false, "ticks": false, "labelPadding": 7, "title": "Pct.", "titleAngle": 0, "titleAlign": "left", "titleBaseline": "alphabetic", "titleX": -39, "titleY": -11.7}},
            "strokeDash": {"field": "s", "type": "nominal", "scale": {"domain": ["HP 25600", "HP 1600", "HP 1600 minus HP 25600"], "range": [[1, 0], [1, 0], [9, 4, 3, 4]]},
              "legend": {"title": null, "encode": {"symbols": {"stroke": {"value": "black"}, "strokeWidth": {"condition": {"test": "datum.value == 'HP 25600'", "value": 4.5}, "value": 1.5}}}}},
            "strokeWidth": {"condition": {"test": "datum.s == 'HP 25600'", "value": 4.5}, "value": 1.5}
          }
        },
        {
          "data": {"values": [{"v": -2}]},
          "mark": {"type": "rule", "strokeOpacity": 0},
          "encoding": {
            "y": {"field": "v", "type": "quantitative",
              "axis": {"orient": "right", "values": [-2, -1, 0, 1, 2, 3, 4], "format": ".1f", "labelExpr": "replace(datum.label, '\u2212', '-')", "grid": false, "domain": false, "ticks": false, "labelPadding": 4, "title": "Pct.", "titleAngle": 0, "titleAlign": "right", "titleBaseline": "alphabetic", "titleX": 38, "titleY": -11.7}}
          }
        },
        {
          "data": {"values": [{"t": 1974}]},
          "mark": {"type": "rule", "strokeOpacity": 0},
          "encoding": {
            "x": {"field": "t", "type": "quantitative",
              "axis": {"orient": "top", "labels": false, "ticks": false, "domain": false, "grid": false, "title": "HP-filtreret", "titleFontSize": 16, "titleAngle": 0, "titleAlign": "center", "titleBaseline": "alphabetic", "titleX": 217.5, "titleY": -31}}
          }
        }
      ],
      "resolve": {"axis": {"x": "independent", "y": "independent"}}
    },
    {
      "width": 404.3, "height": 227,
      "title": {"text": "(c)", "dx": -9, "offset": 19},
      "layer": [
        {
          "data": {"name": "c"},
          "mark": {"type": "line", "color": "black", "clip": true},
          "encoding": {
            "x": {"field": "t", "type": "quantitative", "scale": {"domain": [1974, 2001], "range": [11.3, 404.3], "nice": false, "zero": false},
              "axis": {"orient": "bottom", "values": [1974,1975,1976,1977,1978,1979,1980,1981,1982,1983,1984,1985,1986,1987,1988,1989,1990,1991,1992,1993,1994,1995,1996,1997,1998,1999,2000,2001], "labelExpr": "datum.value % 2 == 0 && datum.value < 2001 ? substring(toString(datum.value), 2, 4) : ''", "labelOffset": 7.28, "grid": false, "domain": false, "tickSize": 5, "labelPadding": 2, "labelOverlap": false, "labelFlush": false, "labelBound": false,
                "title": "Opsparingskvote", "titleFontSize": 22, "titleAngle": 0, "titleAlign": "center", "titleBaseline": "alphabetic", "titleX": 207.8, "titleY": -258.3}},
            "y": {"field": "v", "type": "quantitative", "scale": {"domain": [-0.1, 0.1], "nice": false, "zero": false},
              "axis": {"orient": "left", "values": [-0.1, -0.06667, -0.03333, 0, 0.03333, 0.06667, 0.1], "format": ".3f", "labelExpr": "replace(datum.label, '\u2212', '-')", "grid": true, "domain": false, "ticks": false, "labelPadding": -3.9, "title": null}},
            "strokeDash": {"field": "s", "type": "nominal", "scale": {"domain": ["Faktisk", "HP 25600", "HP 1600", "HP 1600 - HP 25600"], "range": [[1, 0], [1, 0], [4, 3], [1, 0]]},
              "legend": {"title": null, "columns": 2, "padding": 17, "offset": -20, "rowPadding": -2, "encode": {"symbols": {"stroke": {"value": "black"}, "strokeWidth": {"condition": [{"test": "datum.value == 'HP 25600'", "value": 4.5}, {"test": "datum.value == 'HP 1600 - HP 25600'", "value": 0.8}], "value": 1.5}}}}},
            "strokeWidth": {"condition": [{"test": "datum.s == 'HP 25600'", "value": 4.5}, {"test": "datum.s == 'HP 1600 - HP 25600'", "value": 0.8}], "value": 1.5}
          }
        },
        {
          "data": {"values": [{"v": -0.1}]},
          "mark": {"type": "rule", "strokeOpacity": 0},
          "encoding": {
            "y": {"field": "v", "type": "quantitative",
              "axis": {"orient": "right", "values": [-0.1, -0.06667, -0.03333, 0, 0.03333, 0.06667, 0.1], "format": ".3f", "labelExpr": "replace(datum.label, '\u2212', '-')", "grid": false, "domain": false, "ticks": false, "labelPadding": 5,
                "title": "HP-filtreret", "titleFontSize": 16, "titleAngle": 0, "titleAlign": "center", "titleBaseline": "alphabetic", "titleX": -196.5, "titleY": -14}}
          }
        }
      ],
      "resolve": {"axis": {"x": "independent", "y": "independent"}}
    },
    {
      "width": 412, "height": 200,
      "title": {"text": "(d)", "dx": -11.3, "offset": 26},
      "layer": [
        {
          "data": {"name": "d"},
          "mark": {"type": "line", "color": "black", "clip": true},
          "encoding": {
            "x": {"field": "f", "type": "quantitative", "scale": {"domain": [0, 0.09375], "nice": false, "zero": false},
              "axis": {"orient": "bottom", "values": [0, 0.015625, 0.03125, 0.046875, 0.0625, 0.078125, 0.09375], "labelExpr": "datum.value == 0.015625 ? '64 kvt.' : datum.value == 0.03125 ? '32 kvt.' : datum.value == 0.0625 ? '16 kvt.' : ''", "grid": false, "domain": false, "tickSize": 5, "labelPadding": 2, "labelOverlap": false, "labelFlush": false, "labelBound": false,
                "title": "HP-filtrering i frekvensdomæne", "titleFontSize": 21, "titleAngle": 0, "titleAlign": "center", "titleBaseline": "alphabetic", "titleX": 206, "titleY": -225}},
            "y": {"field": "v", "type": "quantitative", "scale": {"domain": [0, 1], "nice": false, "zero": false},
              "axis": {"orient": "left", "values": [0, 0.25, 0.5, 0.75, 1], "format": ".2f", "grid": true, "domain": false, "ticks": false, "labelPadding": 6, "title": null}},
            "strokeDash": {"field": "s", "type": "nominal", "scale": {"domain": ["HP 1600", "HP 25600"], "range": [[1, 0], [1, 0]]},
              "legend": {"title": ["Note: Figuren viser for hver periodelængde, hvor stor en", "del af udsvingene, der fanges i den cykliske komponent."], "titleFontSize": 15, "titleLineHeight": 19, "labelFontSize": 15, "titlePadding": 8, "encode": {"symbols": {"stroke": {"value": "black"}, "strokeWidth": {"condition": {"test": "datum.value == 'HP 1600'", "value": 4.5}, "value": 1.5}}}}},
            "strokeWidth": {"condition": {"test": "datum.s == 'HP 1600'", "value": 4.5}, "value": 1.5}
          }
        },
        {
          "data": {"values": [{"kvt": 32, "f": 0.03125, "lo": 0, "hi": 1}]},
          "mark": {"type": "rule", "color": "black", "strokeWidth": 1, "strokeDash": [5, 3]},
          "encoding": {
            "x": {"field": "f", "type": "quantitative", "axis": null},
            "y": {"field": "lo", "type": "quantitative",
              "axis": {"orient": "right", "values": [0, 0.25, 0.5, 0.75, 1], "format": ".2f", "grid": false, "domain": false, "ticks": false, "labelPadding": 4, "title": null}},
            "y2": {"field": "hi"}
          }
        }
      ],
      "resolve": {"axis": {"x": "independent", "y": "independent"}}
    }
  ]
}
